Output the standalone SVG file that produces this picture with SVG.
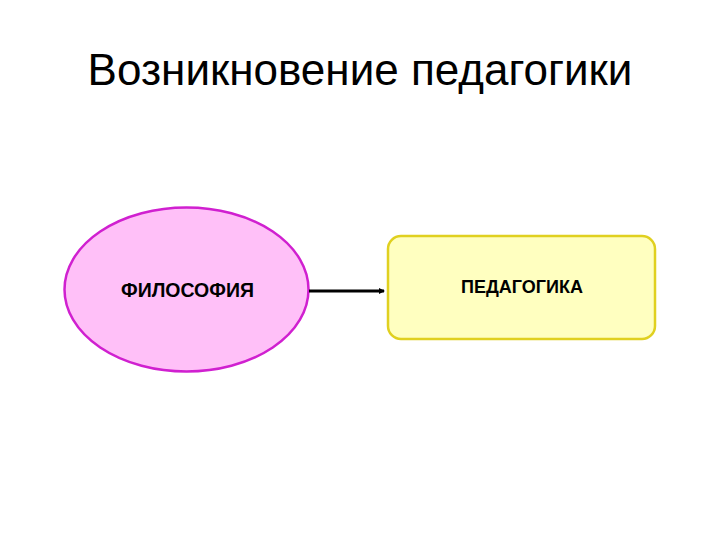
<svg xmlns="http://www.w3.org/2000/svg" width="720" height="540" viewBox="0 0 720 540">
<style>
.title{font-family:"Liberation Sans",Arial,sans-serif;font-size:44px;fill:#000}
.lbl{font-family:"Liberation Sans",Arial,sans-serif;font-size:18px;font-weight:bold;fill:#000}
</style>
<defs>
<marker id="ah" markerWidth="6" markerHeight="6" refX="5" refY="3" orient="auto" markerUnits="userSpaceOnUse">
<path d="M0,0 L6,3 L0,6 z" fill="#000"/>
</marker>
</defs>
<rect width="720" height="540" fill="#fff"/>
<text class="title" x="360" y="85" text-anchor="middle">Возникновение педагогики</text>
<g id="philosophy">
<ellipse cx="186.5" cy="289.5" rx="122" ry="82" fill="#ffc0f8" stroke="#d020d0" stroke-width="2.5"/>
<text class="lbl" x="187.5" y="297" text-anchor="middle" style="font-size:19.5px">ФИЛОСОФИЯ</text>
</g>
<g id="pedagogy">
<rect x="388" y="236" width="267" height="103" rx="13" fill="#ffffc0" stroke="#e0d020" stroke-width="2.5"/>
<text class="lbl" x="522" y="293" text-anchor="middle">ПЕДАГОГИКА</text>
</g>
<g id="connectors">
<line x1="309" y1="291" x2="384" y2="291" stroke="#000" stroke-width="3" marker-end="url(#ah)"/>
</g>
</svg>
